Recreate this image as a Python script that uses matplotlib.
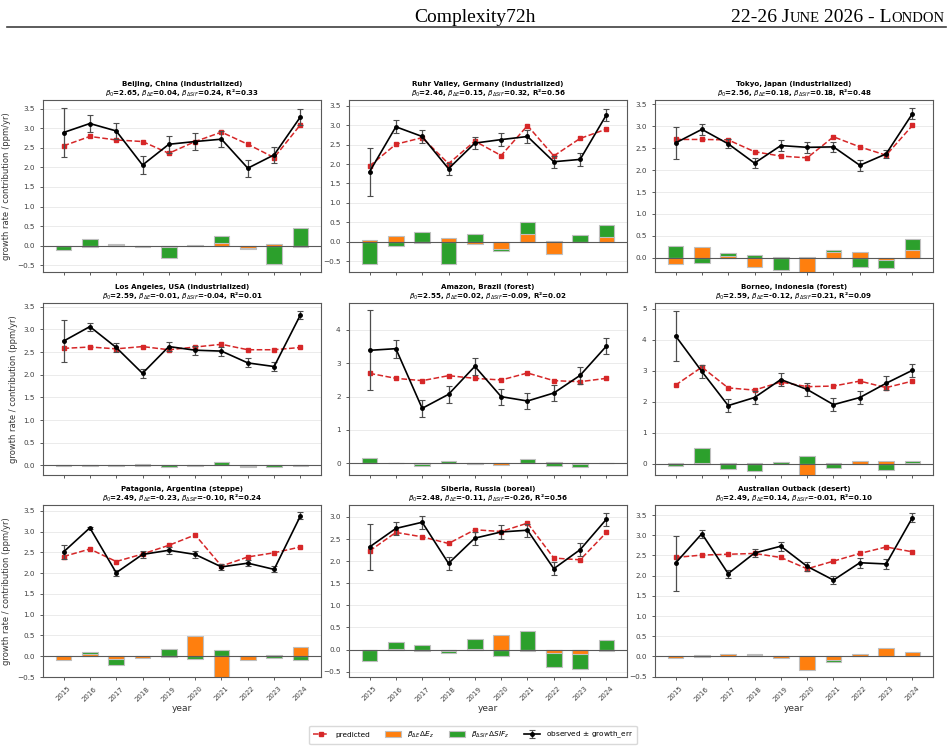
import numpy as np
import matplotlib
matplotlib.use("Agg")
import matplotlib.pyplot as plt
from matplotlib.lines import Line2D

years = np.arange(2015, 2025)

sites = [
    "Beijing, China (industrialized)",
    "Ruhr Valley, Germany (industrialized)",
    "Tokyo, Japan (industrialized)",
    "Los Angeles, USA (industrialized)",
    "Amazon, Brazil (forest)",
    "Borneo, Indonesia (forest)",
    "Patagonia, Argentina (steppe)",
    "Siberia, Russia (boreal)",
    "Australian Outback (desert)",
]
beta0 = ["2.65", "2.46", "2.56", "2.59", "2.55", "2.59", "2.49", "2.48", "2.49"]
beta_e = ["0.04", "0.15", "0.18", "-0.01", "0.02", "-0.12", "-0.23", "-0.11", "0.14"]
beta_sif = ["0.24", "0.32", "0.18", "-0.04", "-0.09", "0.21", "-0.10", "-0.26", "-0.01"]
r2 = ["0.33", "0.56", "0.48", "0.01", "0.02", "0.09", "0.24", "0.56", "0.10"]

observed = [
    [2.89, 3.12, 2.93, 2.06, 2.59, 2.66, 2.72, 1.98, 2.32, 3.29],
    [1.80, 2.96, 2.71, 1.88, 2.54, 2.63, 2.71, 2.06, 2.12, 3.27],
    [2.62, 2.93, 2.60, 2.16, 2.56, 2.52, 2.53, 2.11, 2.37, 3.29],
    [2.74, 3.06, 2.60, 2.03, 2.62, 2.54, 2.52, 2.26, 2.18, 3.32],
    [3.39, 3.44, 1.65, 2.07, 2.91, 2.00, 1.87, 2.11, 2.64, 3.52],
    [4.13, 2.98, 1.88, 2.14, 2.72, 2.40, 1.91, 2.14, 2.60, 3.02],
    [2.51, 3.09, 2.01, 2.45, 2.55, 2.45, 2.15, 2.24, 2.09, 3.38],
    [2.32, 2.74, 2.88, 1.95, 2.52, 2.66, 2.70, 1.83, 2.26, 2.95],
    [2.31, 3.04, 2.05, 2.56, 2.73, 2.23, 1.89, 2.32, 2.29, 3.44],
]
growth_err = [
    [0.62, 0.22, 0.20, 0.22, 0.22, 0.21, 0.20, 0.22, 0.21, 0.21],
    [0.62, 0.17, 0.17, 0.16, 0.16, 0.16, 0.16, 0.15, 0.16, 0.16],
    [0.36, 0.12, 0.10, 0.12, 0.12, 0.12, 0.12, 0.13, 0.10, 0.12],
    [0.46, 0.09, 0.10, 0.10, 0.10, 0.10, 0.10, 0.10, 0.10, 0.09],
    [1.20, 0.27, 0.25, 0.25, 0.25, 0.24, 0.24, 0.25, 0.25, 0.25],
    [0.80, 0.22, 0.21, 0.21, 0.22, 0.21, 0.21, 0.21, 0.22, 0.21],
    [0.16, 0.03, 0.07, 0.08, 0.08, 0.08, 0.07, 0.07, 0.07, 0.08],
    [0.52, 0.14, 0.15, 0.15, 0.15, 0.15, 0.15, 0.15, 0.15, 0.15],
    [0.68, 0.10, 0.10, 0.11, 0.11, 0.12, 0.10, 0.12, 0.12, 0.12],
]
predicted = [
    [2.55, 2.79, 2.70, 2.66, 2.36, 2.66, 2.90, 2.59, 2.25, 3.09],
    [1.95, 2.51, 2.68, 2.01, 2.59, 2.22, 2.99, 2.21, 2.66, 2.90],
    [2.70, 2.70, 2.69, 2.42, 2.32, 2.28, 2.76, 2.53, 2.34, 3.02],
    [2.58, 2.61, 2.57, 2.62, 2.55, 2.61, 2.67, 2.55, 2.55, 2.60],
    [2.70, 2.55, 2.48, 2.63, 2.55, 2.50, 2.71, 2.48, 2.45, 2.55],
    [2.54, 3.12, 2.45, 2.38, 2.64, 2.49, 2.51, 2.67, 2.46, 2.67],
    [2.40, 2.58, 2.28, 2.46, 2.67, 2.92, 2.17, 2.39, 2.49, 2.63],
    [2.23, 2.65, 2.55, 2.40, 2.71, 2.67, 2.86, 2.07, 2.03, 2.65],
    [2.45, 2.51, 2.53, 2.55, 2.45, 2.17, 2.36, 2.55, 2.71, 2.59],
]
# beta_dE * dE_z contribution
contrib_e = [
    [-0.01, -0.02, 0.01, -0.02, -0.03, -0.01, 0.06, -0.07, 0.05, -0.03],
    [0.05, 0.15, -0.04, 0.09, -0.07, -0.20, 0.20, -0.31, 0.00, 0.11],
    [-0.15, 0.24, 0.03, -0.21, 0.01, -0.40, 0.13, 0.14, -0.06, 0.17],
    [0.004, -0.004, 0.003, -0.003, 0.004, -0.003, 0.004, -0.004, 0.003, -0.003],
    [0.01, 0.00, -0.01, 0.01, -0.01, -0.06, 0.02, 0.03, -0.01, 0.005],
    [0.03, 0.03, 0.03, 0.03, 0.01, -0.45, 0.03, 0.10, 0.09, 0.02],
    [-0.10, 0.06, -0.06, -0.05, -0.02, 0.48, -0.60, -0.10, 0.03, 0.23],
    [0.00, 0.01, -0.03, -0.03, 0.01, 0.33, -0.04, -0.07, -0.09, -0.03],
    [-0.05, 0.03, 0.05, 0.04, -0.04, -0.33, -0.10, 0.06, 0.22, 0.10],
]
# beta_dSIF * dSIF_z contribution
contrib_sif = [
    [-0.10, 0.16, 0.04, -0.01, -0.31, 0.03, 0.24, -0.08, -0.47, 0.46],
    [-0.58, -0.11, 0.26, -0.57, 0.20, -0.25, 0.52, 0.02, 0.18, 0.42],
    [0.27, -0.11, 0.10, 0.07, -0.28, 0.02, 0.18, -0.20, -0.23, 0.43],
    [-0.01, 0.01, -0.02, 0.03, -0.03, 0.005, 0.07, -0.04, -0.04, 0.00],
    [0.15, 0.00, -0.07, 0.08, -0.01, 0.00, 0.14, -0.09, -0.12, 0.005],
    [-0.085, 0.52, -0.16, -0.24, 0.06, 0.26, -0.13, 0.00, -0.20, 0.08],
    [-0.01, 0.09, -0.22, -0.02, 0.18, -0.06, 0.14, -0.02, -0.04, -0.10],
    [-0.26, 0.165, 0.10, -0.08, 0.24, -0.14, 0.43, -0.40, -0.45, 0.21],
    [-0.02, -0.02, 0.02, 0.06, -0.02, -0.01, -0.13, 0.02, 0.01, 0.00],
]
ylims = [
    (-0.67, 3.72), (-0.78, 3.65), (-0.325, 3.60),
    (-0.21, 3.58), (-0.35, 4.81), (-0.36, 5.19),
    (-0.50, 3.64), (-0.62, 3.27), (-0.51, 3.75),
]

ORANGE = "#ff7f0e"
GREEN = "#2ca02c"
RED = "#d62728"

fig = plt.figure(figsize=(9.5, 7.5), dpi=100)

# page header
fig.add_artist(Line2D([7 / 950, 946 / 950], [1 - 27 / 750] * 2,
                      color="0.25", lw=1.2, transform=fig.transFigure))
serif = "Liberation Serif"
fig.text(0.5, 1 - 22 / 750, "Complexity72h", ha="center", va="baseline",
         family=serif, fontsize=14)

# small-caps date/place, built right to left
pieces = [("22-26 J", 14), ("UNE", 10.5), (" 2026 - L", 14), ("ONDON", 10.5)]
renderer = fig.canvas.get_renderer()
x_right = 945
for txt, fs in reversed(pieces):
    t = fig.text(x_right / 950, 1 - 22 / 750, txt, ha="right", va="baseline",
                 family=serif, fontsize=fs)
    bb = t.get_window_extent(renderer=renderer)
    x_right -= bb.width

lefts = [43, 349, 655]
bottoms = [272, 475, 677]
w, h = 278, 172

axes = []
for i in range(9):
    r, c = divmod(i, 3)
    ax = fig.add_axes([lefts[c] / 950, 1 - bottoms[r] / 750, w / 950, h / 750])
    axes.append(ax)

    ax.grid(axis="y", color="0.85", lw=0.6, alpha=0.6)
    ax.set_axisbelow(True)
    ax.bar(years, contrib_sif[i], width=0.6, color=GREEN, edgecolor="0.75",
           lw=0.8, label=r"$\beta_{\Delta SIF}\,\Delta SIF_z$", zorder=2)
    ax.bar(years, contrib_e[i], width=0.6, color=ORANGE, edgecolor="0.75",
           lw=0.8, label=r"$\beta_{\Delta E}\,\Delta E_z$", zorder=2)
    ax.axhline(0, color="0.35", lw=0.8, zorder=3)
    ax.plot(years, predicted[i], "--", color=RED, marker="s", ms=2.5, lw=1.1,
            label="predicted", zorder=4)
    ax.errorbar(years, observed[i], yerr=growth_err[i], fmt="-o", color="k",
                ms=2.5, lw=1.2, ecolor="0.3", elinewidth=0.9, capsize=2.2,
                capthick=0.8, label=r"observed $\pm$ growth_err", zorder=5)

    ax.set_ylim(*ylims[i])
    ax.set_xlim(2014.22, 2024.78)
    ax.set_xticks(years)
    ax.tick_params(labelsize=5.2, length=2.5, width=0.6, colors="0.25")
    for s in ax.spines.values():
        s.set_color("0.35")
        s.set_linewidth(0.8)

    ax.set_title(f"{sites[i]}\n$\\beta_0$={beta0[i]}, $\\beta_{{\\Delta E}}$={beta_e[i]}, "
                 f"$\\beta_{{\\Delta SIF}}$={beta_sif[i]}, R²={r2[i]}",
                 fontsize=5.1, fontweight="bold", pad=3, linespacing=1.15)
    if c == 0:
        ax.set_ylabel("growth rate / contribution (ppm/yr)", fontsize=6, color="0.2")
    if r == 2:
        ax.set_xticklabels([str(y) for y in years], rotation=45, fontsize=5)
        ax.set_xlabel("year", fontsize=6.5, color="0.2", labelpad=1)
    else:
        ax.set_xticklabels([])

handles, labels = axes[0].get_legend_handles_labels()
order = ["predicted", r"$\beta_{\Delta E}\,\Delta E_z$",
         r"$\beta_{\Delta SIF}\,\Delta SIF_z$", r"observed $\pm$ growth_err"]
hmap = dict(zip(labels, handles))
fig.legend([hmap[k] for k in order], order, loc="center",
           bbox_to_anchor=(0.498, 1 - 735 / 750), ncol=4, fontsize=5.3,
           frameon=True, framealpha=1, edgecolor="0.85", columnspacing=2.0,
           handlelength=2.2, handletextpad=0.8, borderpad=0.5)

fig.savefig("out.png", dpi=100)
